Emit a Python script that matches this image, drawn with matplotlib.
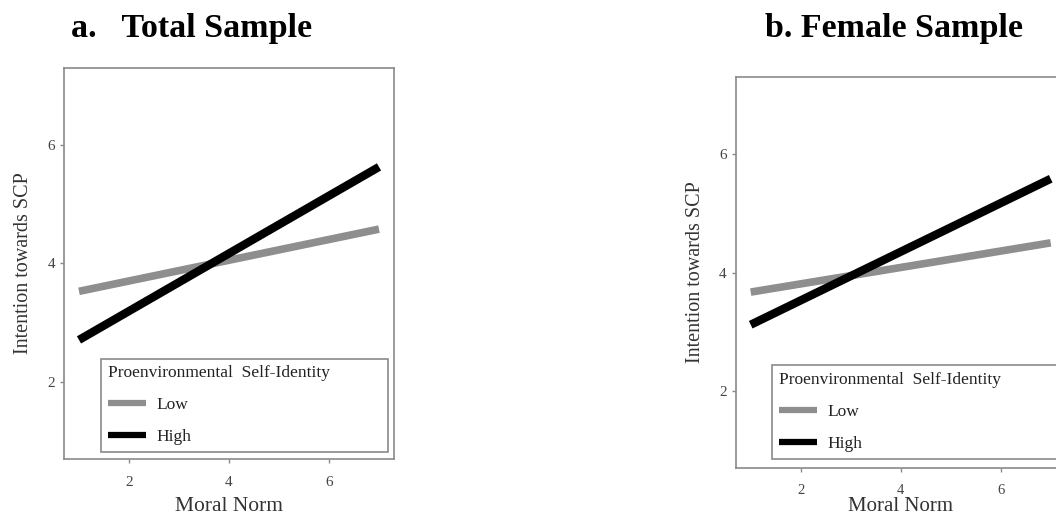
import matplotlib.pyplot as plt

# values
moral_norm = [1, 7]
total_low = [3.53, 4.58]
total_high = [2.71, 5.63]
female_low = [3.67, 4.50]
female_high = [3.12, 5.58]
levels = ['Low', 'High']
ticks = [2, 4, 6]

plt.rcParams['font.family'] = ['Liberation Serif', 'DejaVu Serif']

LOW_COLOR = '#8e8e8e'
HIGH_COLOR = '#000000'
EDGE = '#8a8a8a'


def draw_panel(ax, low, high, legend_anchor, xpad):
    ax.plot(moral_norm, low, color=LOW_COLOR, lw=5.5, solid_capstyle='butt', label=levels[0])
    ax.plot(moral_norm, high, color=HIGH_COLOR, lw=6, solid_capstyle='butt', label=levels[1])
    ax.set_xlim(0.7, 7.3)
    ax.set_ylim(0.7, 7.3)
    ax.set_xticks(ticks)
    ax.set_yticks(ticks)
    ax.tick_params(colors=EDGE, labelcolor='#444444', labelsize=11, length=3, width=1)
    ax.tick_params(axis='x', pad=xpad)
    for s in ax.spines.values():
        s.set_color(EDGE)
        s.set_linewidth(1.2)
    ax.set_ylabel('Intention towards SCP', fontsize=14.5, color='#333333', labelpad=10)
    leg = ax.legend(title='Proenvironmental  Self-Identity', loc='lower left',
                    bbox_to_anchor=legend_anchor, mode='expand', borderaxespad=0,
                    fontsize=12.5, title_fontsize=12.5, handlelength=2.2,
                    handletextpad=0.6, labelspacing=0.9, alignment='left',
                    fancybox=False, framealpha=1, edgecolor=EDGE)
    leg.get_frame().set_linewidth(1.2)
    for line in leg.get_lines():
        line.set_linewidth(4.5)
    for t in leg.get_texts():
        t.set_color('#222222')
    leg.get_title().set_color('#222222')


fig = plt.figure(figsize=(10.56, 5.17), dpi=100)

ax1 = fig.add_axes([0.0606, 0.1122, 0.3125, 0.7563])
draw_panel(ax1, total_low, total_high, (0.112, 0.018, 0.87, 0.25), xpad=9)
ax1.set_xlabel('Moral Norm', fontsize=15.5, color='#333333', labelpad=6)
fig.text(0.181, 0.945, 'a.   Total Sample', fontsize=24.5, fontweight='bold', ha='center', va='center')

ax2 = fig.add_axes([0.6967, 0.0942, 0.3125, 0.7574])
draw_panel(ax2, female_low, female_high, (0.11, 0.024, 0.87, 0.24), xpad=8)
ax2.tick_params(axis='x', labelsize=10.5)
ax2.set_xlabel('Moral Norm', fontsize=15, color='#333333', labelpad=0)
fig.text(0.847, 0.945, 'b. Female Sample', fontsize=24.5, fontweight='bold', ha='center', va='center')

fig.savefig('out.png', dpi=100)
